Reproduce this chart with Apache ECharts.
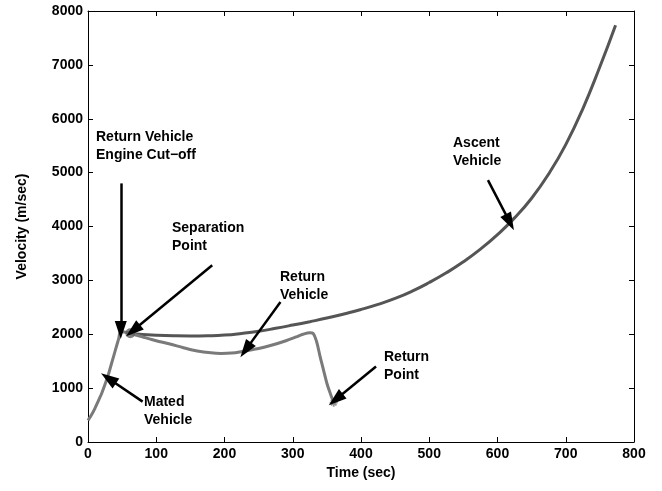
<!DOCTYPE html>
<html><head><meta charset="utf-8">
<script src="https://cdn.jsdelivr.net/npm/echarts@6/dist/echarts.min.js"></script>
<style>html,body{margin:0;padding:0;background:#fff}#c{width:662px;height:491px}</style>
</head><body><div id="c"></div>
<script>
// ---- data ----
var matedTime = [0, 5, 10, 15, 20, 25, 30, 35, 40, 45, 48, 62];
var matedVel  = [400, 500, 620, 760, 900, 1070, 1260, 1480, 1700, 1920, 2050, 2020];

var ascentTime = [62, 80, 100, 125, 150, 175, 200, 225, 250, 275, 300, 325, 350, 375, 400, 425, 450, 475, 500, 525, 550, 575, 600, 625, 650, 675, 700, 725, 750, 773];
var ascentVel  = [2020, 1995, 1982, 1972, 1968, 1972, 1985, 2015, 2055, 2110, 2170, 2233, 2300, 2377, 2460, 2555, 2665, 2800, 2960, 3140, 3345, 3580, 3850, 4160, 4525, 4975, 5520, 6185, 6965, 7737];

var returnTime = [62, 70, 80, 90, 100, 120, 140, 160, 180, 195, 210, 230, 250, 270, 290, 305, 315, 325, 330, 335, 340, 345, 350, 355, 360];
var returnVel  = [2020, 1985, 1950, 1915, 1880, 1820, 1750, 1690, 1655, 1645, 1650, 1690, 1735, 1800, 1880, 1950, 2000, 2030, 2015, 1860, 1590, 1340, 1090, 900, 730];

var separationPoint = [62, 2020];
var returnPoint = [360, 730];

var xTicks = [0, 100, 200, 300, 400, 500, 600, 700, 800];
var yTicks = [0, 1000, 2000, 3000, 4000, 5000, 6000, 7000, 8000];

// annotation arrows: [fromTime, fromVel, toTime, toVel]
var arrows = [
  [48, 4800, 48, 2080],     // engine cut-off
  [182, 3280, 66, 2070],    // separation point
  [282, 2600, 231, 1710],   // return vehicle
  [586, 4860, 618, 4080],   // ascent vehicle
  [422, 1400, 363, 790],    // return point
  [80, 750, 30, 1180]       // mated vehicle
];
var notes = [
  {text: 'Return Vehicle\nEngine Cut\u2212off', x: 96, y: 128},
  {text: 'Separation\nPoint', x: 172, y: 219},
  {text: 'Return\nVehicle', x: 280, y: 268},
  {text: 'Ascent\nVehicle', x: 453, y: 134},
  {text: 'Return\nPoint', x: 384, y: 348},
  {text: 'Mated\nVehicle', x: 144, y: 393}
];

function pairs(t, v) { return t.map(function (x, i) { return [x, v[i]]; }); }

var FONT = '"Liberation Sans", Arial, sans-serif';
var chart = echarts.init(document.getElementById('c'), null, {renderer: 'canvas'});

function axisCommon() {
  return {
    axisLine: {show: true, onZero: false, lineStyle: {color: '#000', width: 1}},
    axisTick: {show: true, inside: true, length: 5, lineStyle: {color: '#000'}},
    splitLine: {show: false}
  };
}
var nameStyle = {fontFamily: FONT, fontWeight: 'bold', fontSize: 14, color: '#000'};

chart.setOption({
  animation: false,
  backgroundColor: '#fff',
  grid: {left: 88, right: 28, top: 11, bottom: 49, show: false},
  xAxis: [
    Object.assign({type: 'value', position: 'bottom', min: 0, max: 800, interval: 100,
      name: 'Time (sec)', nameLocation: 'middle', nameGap: 21, nameTextStyle: nameStyle,
      axisLabel: {fontFamily: FONT, fontWeight: 'bold', fontSize: 14, color: '#000', margin: 5,
        formatter: function (v) { return xTicks.indexOf(v) >= 0 ? String(v) : ''; }}
    }, axisCommon()),
    Object.assign({type: 'value', position: 'top', min: 0, max: 800, interval: 100,
      axisLabel: {show: false}}, axisCommon())
  ],
  yAxis: [
    Object.assign({type: 'value', position: 'left', min: 0, max: 8000, interval: 1000,
      name: 'Velocity (m/sec)', nameLocation: 'middle', nameGap: 59, nameRotate: 90,
      nameTextStyle: nameStyle,
      axisLabel: {fontFamily: FONT, fontWeight: 'bold', fontSize: 14, color: '#000', margin: 5,
        formatter: function (v) { return yTicks.indexOf(v) >= 0 ? String(v) : ''; }}
    }, axisCommon()),
    Object.assign({type: 'value', position: 'right', min: 0, max: 8000, interval: 1000,
      axisLabel: {show: false}}, axisCommon())
  ],
  series: [
    {type: 'line', name: 'Mated', data: pairs(matedTime, matedVel), showSymbol: false,
     smooth: 0.3, lineStyle: {color: '#7a7a7a', width: 3}, z: 3},
    {type: 'line', name: 'Ascent', data: pairs(ascentTime, ascentVel), showSymbol: false,
     smooth: 0.5, lineStyle: {color: '#555555', width: 3}, z: 3},
    {type: 'line', name: 'Return', data: pairs(returnTime, returnVel), showSymbol: false,
     smooth: 0.35, lineStyle: {color: '#7a7a7a', width: 3}, z: 3},
    {type: 'scatter', name: 'Separation', data: [separationPoint], symbol: 'circle', symbolSize: 10,
     itemStyle: {color: '#606060'}, z: 4},
    {type: 'scatter', name: 'Return point', data: [returnPoint],
     symbol: 'path://M0,5L10,5M5,0L5,10M1.5,1.5L8.5,8.5M8.5,1.5L1.5,8.5', symbolSize: 8,
     itemStyle: {color: 'none', borderColor: '#777777', borderWidth: 1.8}, z: 4},
    {type: 'line', name: 'arrows', data: [], silent: true, z: 5,
     markLine: {
       silent: true, animation: false,
       symbol: ['none', 'triangle'], symbolSize: [12, 18],
       label: {show: false},
       lineStyle: {color: '#000', width: 2.5, type: 'solid'},
       emphasis: {disabled: true},
       data: arrows.map(function (a) {
         return [{coord: [a[0], a[1]], symbol: 'none'}, {coord: [a[2], a[3]], symbol: 'triangle'}];
       })
     }}
  ],
  graphic: notes.map(function (n) {
    return {type: 'text', left: n.x, top: n.y, z: 10,
      style: {text: n.text, fontFamily: FONT, fontWeight: 'bold', fontSize: 14,
        lineHeight: 18, fill: '#000'}};
  })
});
</script></body></html>
